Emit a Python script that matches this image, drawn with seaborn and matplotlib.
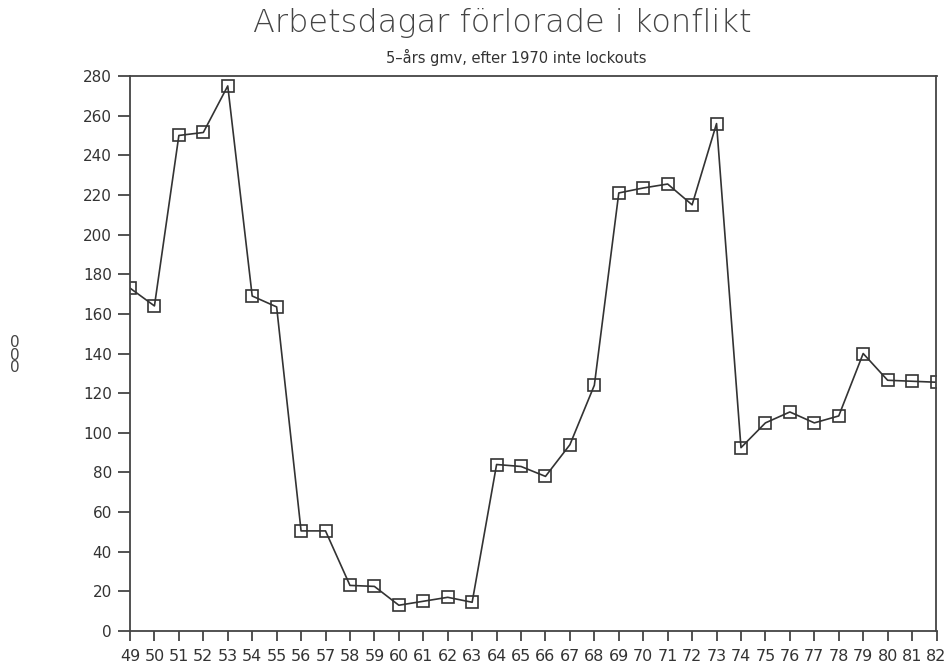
import matplotlib
matplotlib.use("Agg")
import matplotlib.pyplot as plt
import seaborn as sns
import pandas as pd

# Data (thousands of working days, 5-year moving avg)
years = list(range(49, 83))
days_lost = [173, 164, 250, 251.5, 275, 169, 163.5, 50.5, 50.5, 23,
             22.5, 13, 15, 17, 14.5, 84, 83, 78, 94, 124,
             221, 223.5, 225.5, 215, 256, 92.5, 105, 110.5, 105, 108.5,
             140, 126.5, 126, 125.5]
y_ticks = list(range(0, 281, 20))

df = pd.DataFrame({'year': years, 'days': days_lost})

sns.set_style("ticks")
plt.rcParams['font.family'] = ['DejaVu Sans']

fig = plt.figure(figsize=(9.53, 6.68), dpi=100)
ax = fig.add_axes([130 / 953, 37 / 668, 806.5 / 953, 555 / 668])

line_col = '#333333'
sns.lineplot(data=df, x='year', y='days', ax=ax, color=line_col, lw=1.2,
             marker='s', markersize=9, markerfacecolor='none',
             markeredgecolor=line_col, markeredgewidth=1.2)

ax.set_xlim(49, 82)
ax.set_ylim(0, 280)
ax.set_xticks(years)
ax.set_xticklabels([str(y) for y in years])
ax.set_yticks(y_ticks)

for s in ax.spines.values():
    s.set_color('#444444')
    s.set_linewidth(1.3)

ax.tick_params(axis='y', direction='out', length=9, width=1.3, color='#444444',
               labelsize=11, labelcolor='#333333', pad=4)
ax.tick_params(axis='x', direction='out', length=7, width=1.3, color='#444444',
               labelsize=11.5, labelcolor='#333333', pad=6)

ax.set_xlabel('')
ax.set_ylabel('')

# y label drawn as stacked characters like the original
fig.text(15 / 953, 1 - 355 / 668, '0\n0\n0', ha='center', va='center',
         fontsize=11, color='#444444', linespacing=0.8)

fig.text(502 / 953, 1 - 23 / 668, 'Arbetsdagar förlorade i konflikt',
         ha='center', va='center', fontsize=23, color='#444444',
         fontweight='light')
fig.text(516 / 953, 1 - 57 / 668, '5–års gmv, efter 1970 inte lockouts',
         ha='center', va='center', fontsize=10.5, color='#333333')

fig.savefig('out.png', dpi=100)
